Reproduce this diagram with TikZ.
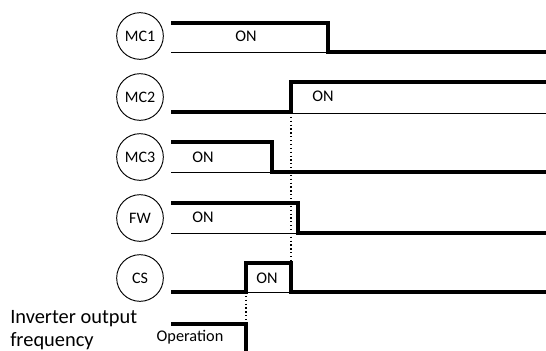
\documentclass[tikz,border=0pt]{standalone}
\usepackage{fontspec}
\setmainfont{Carlito}
\usetikzlibrary{positioning}

\begin{document}
\begin{tikzpicture}[
    x=0.75pt, y=-0.75pt,
    coil/.style={circle, draw, line width=0.7pt, minimum size=35pt,
                 inner sep=0pt, font=\fontsize{12}{14}\selectfont},
    lbl/.style={inner sep=0pt, font=\fontsize{12.2}{14}\selectfont},
    wave/.style={line width=2.3pt},
    thinWave/.style={line width=0.7pt},
    guide/.style={dotted, line width=0.9pt},
]
\useasboundingbox (0,0) rectangle (546,350);

% coils
\node[coil] (MC1) at (140,36)  {MC1};
\node[coil] (MC2) at (140,97)  {MC2};
\node[coil] (MC3) at (140,157) {MC3};
\node[coil] (FW)  at (140,218) {FW};
\node[coil] (CS)  at (140,278) {CS};

% ON labels
\node[lbl] (onMC1) at (246,36)  {ON};
\node[lbl] (onMC2) at (323,96)  {ON};
\node[lbl] (onMC3) at (203,157) {ON};
\node[lbl] (onFW)  at (203,217) {ON};
\node[lbl] (onCS)  at (267,278) {ON};

\node[lbl, anchor=base west, align=left,
      font=\fontsize{15.3}{16.6}\selectfont] (invOut) at (10,346)
    {Inverter output\\frequency};
\node[lbl] (oper) at (190,337) {Operation};

% waveforms
\draw[wave] (171,23) -- (328,23) -- (328,52) -- (546,52);
\draw[thinWave] (171,52) -- (328,52);

\draw[wave] (171,112) -- (291,112) -- (291,82) -- (546,82);
\draw[thinWave] (291,113) -- (546,113);

\draw[wave] (171,142) -- (272,142) -- (272,172) -- (546,172);
\draw[thinWave] (171,172) -- (272,172);

\draw[wave] (171,203) -- (298,203) -- (298,233) -- (546,233);
\draw[thinWave] (171,233) -- (298,233);

\draw[wave] (171,292) -- (246,292) -- (246,263) -- (291,263)
    -- (291,292) -- (546,292);
\draw[thinWave] (246,292) -- (291,292);

\draw[wave] (171,324) -- (246,324) -- (246,352);

% timing guides
\draw[guide] (291,113) -- (291,263);
\draw[guide] (246,292) -- (246,324);
\end{tikzpicture}
\end{document}
